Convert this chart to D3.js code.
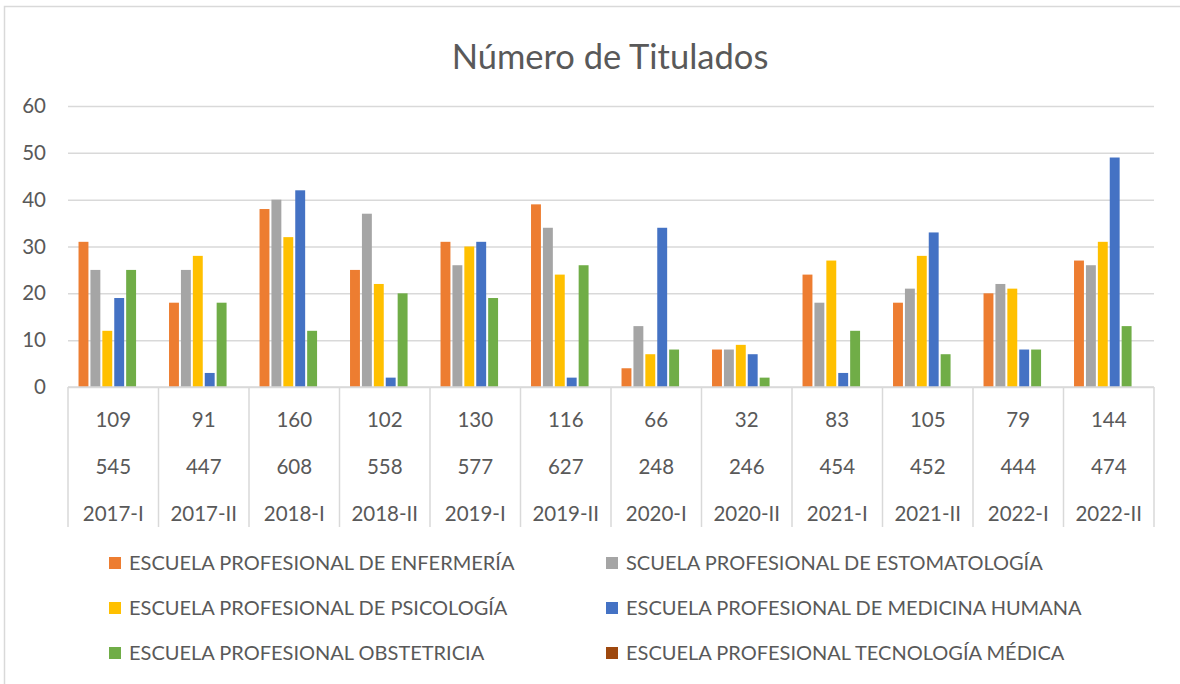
<!DOCTYPE html>
<html>
<head>
<meta charset="utf-8">
<script src="https://cdn.jsdelivr.net/npm/d3@7"></script>
<style>
  body { margin: 0; background: #fff; }
  svg text { font-family: Lato, "Open Sans", sans-serif; fill: #595959; }
</style>
</head>
<body>
<svg id="chart" width="1180" height="684"></svg>
<script>
// semesters on the axis, and the two extra label rows under them
var semestres = ['2017-I','2017-II','2018-I','2018-II','2019-I','2019-II','2020-I','2020-II','2021-I','2021-II','2022-I','2022-II'];
var fila1 = ['109','91','160','102','130','116','66','32','83','105','79','144'];
var fila2 = ['545','447','608','558','577','627','248','246','454','452','444','474'];

var series = [
  'ESCUELA PROFESIONAL DE ENFERMERÍA',
  'SCUELA PROFESIONAL DE ESTOMATOLOGÍA',
  'ESCUELA PROFESIONAL DE PSICOLOGÍA',
  'ESCUELA PROFESIONAL DE MEDICINA HUMANA',
  'ESCUELA PROFESIONAL OBSTETRICIA',
  'ESCUELA PROFESIONAL TECNOLOGÍA MÉDICA'
];
var enfermeria    = [31, 18, 38, 25, 31, 39, 4, 8, 24, 18, 20, 27];
var estomatologia = [25, 25, 40, 37, 26, 34, 13, 8, 18, 21, 22, 26];
var psicologia    = [12, 28, 32, 22, 30, 24, 7, 9, 27, 28, 21, 31];
var medicina      = [19, 3, 42, 2, 31, 2, 34, 7, 3, 33, 8, 49];
var obstetricia   = [25, 18, 12, 20, 19, 26, 8, 2, 12, 7, 8, 13];
var tecnologia    = [0, 0, 0, 0, 0, 0, 0, 0, 0, 0, 0, 0];
var yTicks = [0, 10, 20, 30, 40, 50, 60];

var colores = ['#ED7D31', '#A5A5A5', '#FFC000', '#4472C4', '#70AD47', '#9E480E'];
var valores = [enfermeria, estomatologia, psicologia, medicina, obstetricia, tecnologia];

var svg = d3.select('#chart');
var mLeft = 68, mRight = 1154, mTop = 106, mBottom = 387;

// chart frame (runs off the right/bottom of the picture)
svg.append('rect')
  .attr('x', 4.5).attr('y', 6.5)
  .attr('width', 1250).attr('height', 750)
  .attr('fill', 'none').attr('stroke', '#D9D9D9').attr('stroke-width', 1.5);

svg.append('text')
  .attr('x', 610).attr('y', 69)
  .attr('text-anchor', 'middle')
  .style('font-size', '34.5px')
  .text('Número de Titulados');

var x = d3.scaleBand().domain(semestres).range([mLeft, mRight]).padding(0);
var xs = d3.scaleBand().domain(d3.range(series.length))
  .range([0, x.bandwidth()]).paddingInner(0).paddingOuter(0.8);
var y = d3.scaleLinear().domain([0, 60]).range([mBottom, mTop]);

// gridlines + y labels
var yAxis = svg.append('g')
  .attr('transform', 'translate(' + mLeft + ',0)')
  .call(d3.axisLeft(y).tickValues(yTicks).tickSize(-(mRight - mLeft)).tickPadding(22));
yAxis.select('.domain').remove();
yAxis.selectAll('.tick line').attr('stroke', '#D9D9D9').attr('stroke-width', 1.5);
yAxis.selectAll('.tick text').style('font-size', '20.5px').attr('fill', '#595959');

// bars
valores.forEach(function(vals, s) {
  svg.append('g').selectAll('rect')
    .data(vals).enter()
    .append('rect')
    .attr('x', function(d, i) { return x(semestres[i]) + xs(s) + 1; })
    .attr('y', function(d) { return y(d); })
    .attr('width', xs.bandwidth() - 2)
    .attr('height', function(d) { return mBottom - y(d); })
    .attr('fill', colores[s]);
});

// category axis line and multi-level label table
svg.append('line')
  .attr('x1', mLeft).attr('x2', mRight)
  .attr('y1', mBottom).attr('y2', mBottom)
  .attr('stroke', '#D9D9D9').attr('stroke-width', 1.5);

var bordes = semestres.map(function(d) { return x(d); }).concat([mRight]);
svg.append('g').selectAll('line')
  .data(bordes).enter()
  .append('line')
  .attr('x1', function(d) { return d; }).attr('x2', function(d) { return d; })
  .attr('y1', mBottom).attr('y2', 527)
  .attr('stroke', '#D9D9D9').attr('stroke-width', 1.5);

[[fila1, 427], [fila2, 474], [semestres, 521]].forEach(function(row) {
  svg.append('g').selectAll('text')
    .data(row[0]).enter()
    .append('text')
    .attr('x', function(d, i) { return x(semestres[i]) + x.bandwidth() / 2; })
    .attr('y', row[1])
    .attr('text-anchor', 'middle')
    .style('font-size', '20.5px')
    .text(function(d) { return d; });
});

// legend, 2 columns x 3 rows
var leyenda = svg.append('g').selectAll('g')
  .data(series).enter()
  .append('g')
  .attr('transform', function(d, i) {
    return 'translate(' + (i % 2 ? 606 : 109) + ',' + (563 + Math.floor(i / 2) * 45) + ')';
  });
leyenda.append('rect')
  .attr('x', 0).attr('y', -6)
  .attr('width', 12).attr('height', 12)
  .attr('fill', function(d, i) { return colores[i]; });
leyenda.append('text')
  .attr('x', 20).attr('y', 7)
  .style('font-size', '20px')
  .text(function(d) { return d; });
</script>
</body>
</html>
